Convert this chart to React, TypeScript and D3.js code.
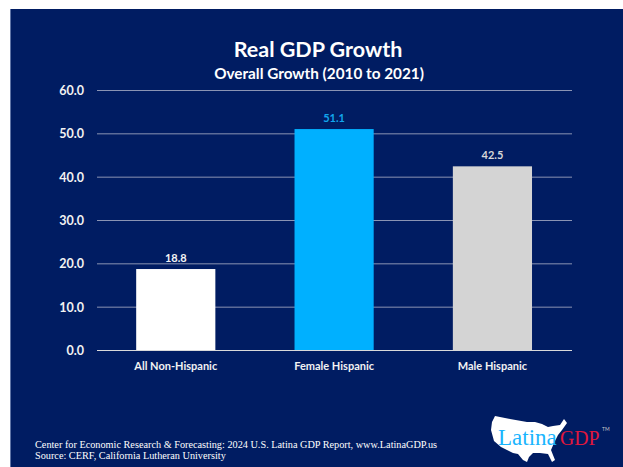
import React, { useEffect, useRef } from "react";
import * as d3 from "d3";

const categories = ["All Non-Hispanic", "Female Hispanic", "Male Hispanic"];
const growthValues = [18.8, 51.1, 42.5];
const barColors = ["#ffffff", "#00b0ff", "#d4d4d4"];
const valueColors = ["#f4f4f4", "#12a5ec", "#d8d8d8"];
const yTicks = [0, 10, 20, 30, 40, 50, 60];
const footerLines = [
  "Center for Economic Research & Forecasting: 2024 U.S. Latina GDP Report, www.LatinaGDP.us",
  "Source: CERF, California Lutheran University",
];

const WIDTH = 623;
const HEIGHT = 467;
const NAVY = "#001c62";
const SANS = "Lato, 'Open Sans', sans-serif";
const SERIF = "'Liberation Serif', serif";

// Outline of the contiguous United States behind the logo wordmark.
const US_OUTLINE: [number, number][] = [
  [495, 416], [510, 419], [527, 422], [535, 422], [542, 424], [548, 427], [553, 426],
  [560, 425], [564, 419], [567, 423], [562, 430], [558, 435], [554, 443], [551, 450],
  [555, 460], [552, 462], [548, 454], [540, 453], [533, 453], [529, 457], [527, 462],
  [523, 460], [518, 454], [513, 453], [505, 449], [501, 447], [494, 441], [491, 430],
  [492, 422],
];

export default function App() {
  const ref = useRef<SVGSVGElement>(null);

  useEffect(() => {
    const svg = d3.select(ref.current!);
    svg.selectAll("*").remove();

    const x = d3.scaleBand<string>().domain(categories).range([96.6, 571.6]).paddingInner(0.5).paddingOuter(0.25);
    const y = d3.scaleLinear().domain([0, 60]).range([350.5, 90.5]);

    // Panel
    svg.append("rect").attr("width", WIDTH).attr("height", HEIGHT).attr("fill", "#ffffff");
    svg.append("rect").attr("x", 10).attr("y", 9).attr("width", WIDTH - 10).attr("height", HEIGHT - 9).attr("fill", NAVY);
    svg.append("line").attr("x1", 10.5).attr("x2", 10.5).attr("y1", 9).attr("y2", HEIGHT)
      .attr("stroke", "#5f74a6").attr("stroke-width", 1);

    // Gridlines
    svg.append("g").selectAll("line").data(yTicks.filter((t) => t > 0)).join("line")
      .attr("x1", 97).attr("x2", 572)
      .attr("y1", (d) => y(d)).attr("y2", (d) => y(d))
      .attr("stroke", "#8a94b4").attr("stroke-width", 1);

    // Tick labels
    svg.append("g").selectAll("text").data(yTicks).join("text")
      .attr("x", 84).attr("y", (d) => y(d) + 4.5)
      .attr("text-anchor", "end")
      .attr("font-family", SANS).attr("font-weight", 700).attr("font-size", 12.5)
      .attr("fill", "#f2f2f2")
      .text((d) => d.toFixed(1));

    // Bars
    svg.append("g").selectAll("rect").data(categories).join("rect")
      .attr("x", (d) => x(d)!)
      .attr("width", x.bandwidth())
      .attr("y", (_, i) => y(growthValues[i]))
      .attr("height", (_, i) => y(0) - y(growthValues[i]))
      .attr("fill", (_, i) => barColors[i]);

    // Baseline
    svg.append("line").attr("x1", 97).attr("x2", 572).attr("y1", y(0)).attr("y2", y(0))
      .attr("stroke", "#d9d9d9").attr("stroke-width", 1);

    // Value labels
    svg.append("g").selectAll("text").data(categories).join("text")
      .attr("x", (d) => x(d)! + x.bandwidth() / 2)
      .attr("y", (_, i) => y(growthValues[i]) - 7)
      .attr("text-anchor", "middle")
      .attr("font-family", SANS).attr("font-weight", 700).attr("font-size", 11)
      .attr("fill", (_, i) => valueColors[i])
      .text((_, i) => growthValues[i].toFixed(1));

    // Category labels
    svg.append("g").selectAll("text").data(categories).join("text")
      .attr("x", (d) => x(d)! + x.bandwidth() / 2)
      .attr("y", 370)
      .attr("text-anchor", "middle")
      .attr("font-family", SANS).attr("font-weight", 700).attr("font-size", 11)
      .attr("fill", "#f2f2f2")
      .text((d) => d);

    // Titles
    svg.append("text").attr("x", 318).attr("y", 57).attr("text-anchor", "middle")
      .attr("font-family", SANS).attr("font-weight", 700).attr("font-size", 21.5)
      .attr("fill", "#ffffff").text("Real GDP Growth");
    svg.append("text").attr("x", 319).attr("y", 79).attr("text-anchor", "middle")
      .attr("font-family", SANS).attr("font-weight", 700).attr("font-size", 15.3)
      .attr("fill", "#ffffff").text("Overall Growth (2010 to 2021)");

    // Footer
    svg.append("g").selectAll("text").data(footerLines).join("text")
      .attr("x", 35).attr("y", (_, i) => 448 + i * 11)
      .attr("font-family", SERIF).attr("font-size", 10.25)
      .attr("fill", "#ffffff")
      .text((d) => d);

    // Logo
    const logo = svg.append("g");
    logo.append("path")
      .attr("d", d3.line().curve(d3.curveLinearClosed)(US_OUTLINE)!)
      .attr("fill", "#ffffff");
    logo.append("text").attr("x", 498).attr("y", 445)
      .attr("font-family", SERIF).attr("font-size", 23)
      .attr("fill", "#19b5fe").text("Latina");
    logo.append("text").attr("x", 560).attr("y", 445)
      .attr("font-family", SERIF).attr("font-size", 20)
      .attr("textLength", 39.5).attr("lengthAdjust", "spacingAndGlyphs")
      .attr("fill", "#e0173c").text("GDP");
    logo.append("text").attr("x", 602).attr("y", 431)
      .attr("font-family", SANS).attr("font-size", 5).attr("fill", "#c8c8c8").text("TM");
  }, []);

  return (
    <svg
      ref={ref}
      width={WIDTH}
      height={HEIGHT}
      style={{ position: "absolute", left: 0, top: 0, display: "block" }}
    />
  );
}
